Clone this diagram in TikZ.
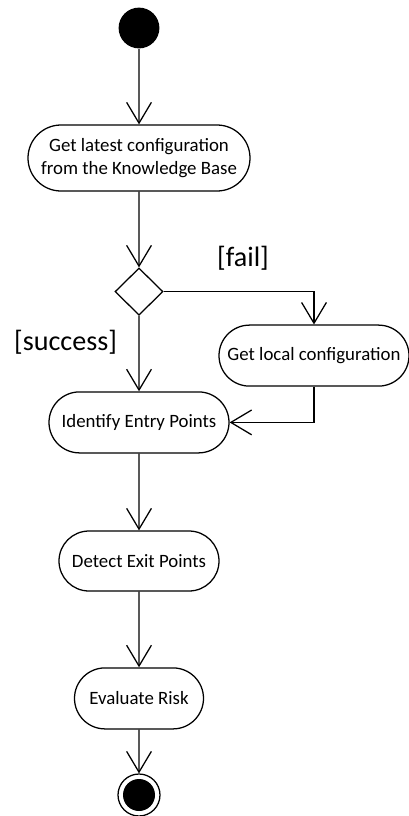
\documentclass[tikz,border=0pt]{standalone}
\usepackage{fontspec}
\setmainfont{Carlito}
\usetikzlibrary{arrows.meta,shapes.misc,shapes.geometric}

\begin{document}
\begin{tikzpicture}[line width=0.9pt,
    activity/.style={draw,rounded rectangle,align=center,inner sep=0pt,font=\fontsize{13.4}{16.3}\selectfont},
    flow/.style={-{Straight Barb[length=0.52cm,width=0.62cm]}},
    guard/.style={font=\fontsize{20}{24}\selectfont}]
   \useasboundingbox (0,0) rectangle (10.225,-20.4);
   \node[fill,circle,minimum size=1.02cm,inner sep=0pt] (start) at (3.475,-0.7) {};
   \node[activity,minimum width=5.55cm,minimum height=1.65cm] (latest) at (3.475,-3.95) {Get latest configuration\\from the Knowledge Base};
   \node[draw,diamond,minimum width=1.2cm,minimum height=1.18cm,inner sep=0pt] (check) at (3.475,-7.29) {};
   \node[activity,minimum width=4.75cm,minimum height=1.525cm] (local) at (7.85,-8.89) {Get local configuration};
   \node[activity,minimum width=4.5cm,minimum height=1.525cm] (entry) at (3.475,-10.56) {Identify Entry Points};
   \node[activity,minimum width=4cm,minimum height=1.5cm] (exit) at (3.475,-14.025) {Detect Exit Points};
   \node[activity,minimum width=3.225cm,minimum height=1.525cm] (risk) at (3.475,-17.46) {Evaluate Risk};
   \node[draw,circle,minimum size=1.05cm,inner sep=0pt] (stop) at (3.475,-19.875) {};
   \fill (stop) circle (0.4cm);
   \node[guard] (fail) at (6.075,-6.45) {[fail]};
   \node[guard] (success) at (1.64,-8.55) {[success]};
   \draw[flow] (start) -- (latest);
   \draw[flow] (latest) -- (check);
   \draw[flow] (check.east) -| (local.north);
   \draw[flow] (check) -- (entry);
   \draw[flow] (local.south) |- (entry.east);
   \draw[flow] (entry) -- (exit);
   \draw[flow] (exit) -- (risk);
   \draw[flow] (risk) -- (stop);
\end{tikzpicture}
\end{document}
